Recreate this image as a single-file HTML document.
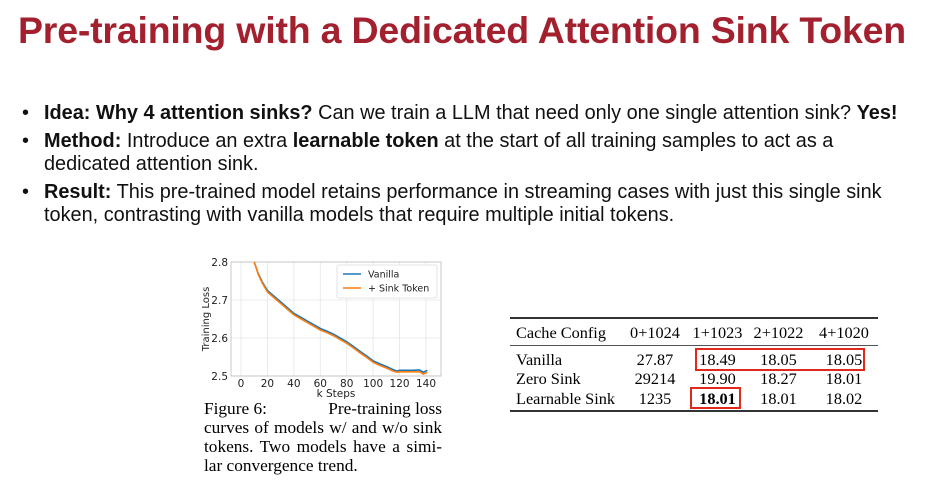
<!DOCTYPE html>
<html><head><meta charset="utf-8">
<style>
body{margin:0;width:932px;height:490px;background:#fff;overflow:hidden;font-family:"Liberation Sans",sans-serif;position:relative}
#title{position:absolute;left:18px;top:9px;font-size:37.5px;font-weight:bold;color:#a3212f;letter-spacing:-0.2px;white-space:nowrap}
ul{position:absolute;left:22px;top:102px;margin:0;padding:0;list-style:none;font-size:19.9px;color:#111;width:885px}
li{position:relative;padding-left:22px;line-height:23px;margin-bottom:5px}
li:before{content:"•";position:absolute;left:0}
#cap{position:absolute;left:204px;top:399px;font-family:"Liberation Serif",serif;font-size:17.3px;line-height:19px;width:238px}
#cap div{text-align:justify;text-align-last:justify;white-space:nowrap}
#cap div.l{text-align-last:left}
#cap div.f{display:flex;justify-content:space-between}
table{position:absolute;left:510px;top:317px;border-collapse:collapse;table-layout:fixed;font-family:"Liberation Serif",serif;font-size:16.3px;border-top:2px solid #333;border-bottom:2px solid #333}
td{padding:0;line-height:19.5px;text-align:center;white-space:nowrap}
td:first-child{text-align:left;padding-left:6px}
tr.h td{padding-top:4px;padding-bottom:2px;border-bottom:1px solid #555}
tr.r1 td{padding-top:4px}
tr.last td{padding-bottom:2px}
.box{position:absolute;border:2.5px solid #e0291c}
</style></head><body>
<div id="title">Pre-training with a Dedicated Attention Sink Token</div>
<ul>
<li><b>Idea: Why 4 attention sinks?</b> Can we train a LLM that need only one single attention sink? <b>Yes!</b></li>
<li><b>Method:</b> Introduce an extra <b>learnable token</b> at the start of all training samples to act as a<br>dedicated attention sink.</li>
<li><b>Result:</b> This pre-trained model retains performance in streaming cases with just this single sink<br>token, contrasting with vanilla models that require multiple initial tokens.</li>
</ul>
<svg id="chart" width="932" height="490" style="position:absolute;left:0;top:0"></svg>
<div id="cap"><div class="f"><span>Figure 6:</span><span>Pre-training loss</span></div><div>curves of models w/ and w/o sink</div><div>tokens. Two models have a simi-</div><div class="l">lar convergence trend.</div></div>
<table>
<colgroup><col style="width:112px"><col style="width:66px"><col style="width:59px"><col style="width:63px"><col style="width:68px"></colgroup>
<tr class="h"><td>Cache Config</td><td>0+1024</td><td>1+1023</td><td>2+1022</td><td>4+1020</td></tr>
<tr class="r1"><td>Vanilla</td><td>27.87</td><td>18.49</td><td>18.05</td><td>18.05</td></tr>
<tr><td>Zero Sink</td><td>29214</td><td>19.90</td><td>18.27</td><td>18.01</td></tr>
<tr class="last"><td>Learnable Sink</td><td>1235</td><td><b>18.01</b></td><td>18.01</td><td>18.02</td></tr>
</table>
<div class="box" style="left:695px;top:348px;width:166px;height:19px"></div>
<div class="box" style="left:690px;top:387px;width:47px;height:18px"></div>
<script>
const steps=[10,13,16,20,25,30,35,40,45,50,55,60,65,70,75,80,85,90,95,100,105,110,115,118,120,125,130,135,138,141];
const vanilla=[2.8,2.77,2.748,2.725,2.71,2.695,2.68,2.665,2.655,2.645,2.635,2.625,2.618,2.61,2.6,2.59,2.578,2.565,2.553,2.54,2.532,2.525,2.517,2.513,2.515,2.515,2.515,2.516,2.51,2.515];
const sink=[2.8,2.768,2.745,2.721,2.706,2.691,2.676,2.661,2.651,2.641,2.631,2.621,2.614,2.606,2.596,2.586,2.574,2.561,2.549,2.536,2.528,2.521,2.513,2.51,2.511,2.511,2.511,2.511,2.505,2.51];
const xTicks=[0,20,40,60,80,100,120,140];
const yTicks=[2.5,2.6,2.7,2.8];
const NS="http://www.w3.org/2000/svg",svg=document.getElementById('chart');
const X0=231,X1=441,Y0=262,Y1=376;
const xs=v=>241+(v/140)*185, ys=v=>Y1-(v-2.5)/0.3*(Y1-Y0);
function mk(t,a,p){const e=document.createElementNS(NS,t);for(const k in a)e.setAttribute(k,a[k]);(p||svg).appendChild(e);return e;}
xTicks.forEach(t=>{const g=mk('line',{x1:xs(t),x2:xs(t),y1:Y0,y2:Y1,stroke:'#e6e6e6','stroke-width':0.8});

const l=mk('text',{x:xs(t),y:Y1+11,'font-size':10.5,'text-anchor':'middle',fill:'#222','font-family':'DejaVu Sans'});l.textContent=t;
});
yTicks.forEach(t=>{const g=mk('line',{x1:X0,x2:X1,y1:ys(t),y2:ys(t),stroke:'#e6e6e6','stroke-width':0.8});

const l=mk('text',{x:X0-3,y:ys(t)+4,'font-size':10.5,'text-anchor':'end',fill:'#222','font-family':'DejaVu Sans'});l.textContent=t.toFixed(1);
});
const fr=mk('rect',{x:X0,y:Y0,width:X1-X0,height:Y1-Y0,fill:'none',stroke:'#bbb','stroke-width':0.8});

const pv=mk('polyline',{points:steps.map((s,i)=>xs(s)+','+ys(vanilla[i])).join(' '),fill:'none',stroke:'#1f77b4','stroke-width':1.6});

const ps=mk('polyline',{points:steps.map((s,i)=>xs(s)+','+ys(sink[i])).join(' '),fill:'none',stroke:'#ff7f0e','stroke-width':1.6});

const xt=mk('text',{x:(X0+X1)/2,y:Y1+21,'font-size':10.5,'text-anchor':'middle',fill:'#222','font-family':'DejaVu Sans'});xt.textContent='k Steps';

const yt=mk('text',{x:0,y:0,'font-size':10,'text-anchor':'middle',fill:'#222','font-family':'DejaVu Sans',transform:'translate(209,'+((Y0+Y1)/2)+') rotate(-90)'});yt.textContent='Training Loss';

const lg=mk('rect',{x:337,y:265,width:100,height:33,fill:'#fff',stroke:'#ddd','stroke-width':0.8,rx:2});

[['Vanilla','#1f77b4',274],['+ Sink Token','#ff7f0e',288]].forEach(([n,c,y])=>{
const l=mk('line',{x1:343,x2:361,y1:y,y2:y,stroke:c,'stroke-width':1.6});
const t=mk('text',{x:368,y:y+3.5,'font-size':9.5,fill:'#222','font-family':'DejaVu Sans'});t.textContent=n;
});
</script>
</body></html>
